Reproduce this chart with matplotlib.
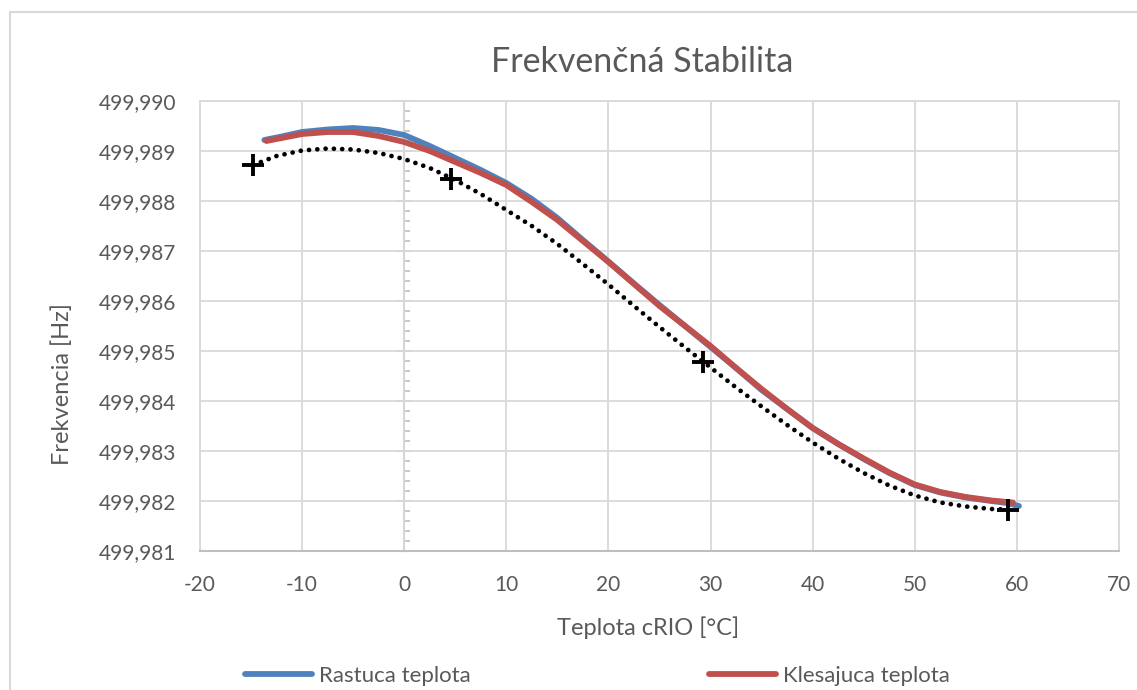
import numpy as np
import matplotlib
matplotlib.use('Agg')
import matplotlib.pyplot as plt
from matplotlib.ticker import FuncFormatter, MultipleLocator
from matplotlib.patches import Rectangle

plt.rcParams['font.family'] = ['Lato', 'DejaVu Sans']
plt.rcParams['axes.unicode_minus'] = False

# ---------------------------------------------------
# Data
# ---------------------------------------------------
temp_rise = [-13.7, -12, -10, -7.5, -5, -2.5, 0, 2.5, 5, 7.5, 10, 12.5, 15, 17.5, 20, 22.5,
             25, 27.5, 30, 32.5, 35, 37.5, 40, 42.5, 45, 47.5, 50, 52.5, 55, 57.5, 59, 60.2]
freq_rise = [499.98922, 499.98929, 499.98938, 499.98943, 499.98946, 499.98942, 499.98932,
             499.98910, 499.98886, 499.98862, 499.98836, 499.98804, 499.98766, 499.98722,
             499.98679, 499.98635, 499.98592, 499.98550, 499.98508, 499.98466, 499.98422,
             499.98384, 499.98346, 499.98314, 499.98284, 499.98256, 499.98232, 499.98217,
             499.98207, 499.98200, 499.98196, 499.98190]

temp_fall = [-13.5, -12, -10, -7.5, -5, -2.5, 0, 2.5, 5, 7.5, 10, 12.5, 15, 17.5, 20, 22.5,
             25, 27.5, 30, 32.5, 35, 37.5, 40, 42.5, 45, 47.5, 50, 52.5, 55, 57.5, 59.6]
freq_fall = [499.98920, 499.98926, 499.98934, 499.98938, 499.98938, 499.98930, 499.98918,
             499.98900, 499.98878, 499.98856, 499.98832, 499.98798, 499.98762, 499.98720,
             499.98678, 499.98634, 499.98590, 499.98550, 499.98510, 499.98466, 499.98424,
             499.98384, 499.98346, 499.98314, 499.98285, 499.98257, 499.98233, 499.98218,
             499.98208, 499.98201, 499.98197]

temp_trend = [-14.8, -12.5, -10, -7.5, -5, -2.5, 0, 2.5, 5, 7.5, 10, 12.5, 15, 17.5, 20, 22.5,
              25, 27.5, 30, 32.5, 35, 37.5, 40, 42.5, 45, 47.5, 50, 52.5, 55, 57.5, 59.1]
freq_trend = [499.98872, 499.98890, 499.98901, 499.98905, 499.98903, 499.98896, 499.98884,
              499.98866, 499.98842, 499.98814, 499.98782, 499.98750, 499.98714, 499.98674,
              499.98633, 499.98590, 499.98548, 499.98507, 499.98467, 499.98427, 499.98389,
              499.98352, 499.98317, 499.98285, 499.98256, 499.98231, 499.98211, 499.98197,
              499.98189, 499.98184, 499.98183]

temp_points = [-14.8, 4.6, 29.3, 59.1]
freq_points = [499.98872, 499.98844, 499.98478, 499.98182]

x_ticks = [-20, -10, 0, 10, 20, 30, 40, 50, 60, 70]
y_ticks = [499.981, 499.982, 499.983, 499.984, 499.985, 499.986, 499.987, 499.988, 499.989, 499.990]

# ---------------------------------------------------
# Figure
# ---------------------------------------------------
W, H = 1137, 690
fig = plt.figure(figsize=(W / 100, H / 100), dpi=100)
ax = fig.add_axes([200 / W, 1 - 551 / H, 919 / W, 450 / H])

text_col = '#595959'
grid_col = '#d9d9d9'
axis_col = '#bfbfbf'

ax.plot(temp_rise, freq_rise, color='#4f81bd', lw=4.2, solid_capstyle='round', label='Rastuca teplota', zorder=3)
ax.plot(temp_fall, freq_fall, color='#c0504d', lw=4.2, solid_capstyle='round', label='Klesajuca teplota', zorder=4)
ax.plot(temp_trend, freq_trend, color='black', lw=3.4, linestyle=(0, (0.01, 1.75)),
        dash_capstyle='round', zorder=5)
ax.plot(temp_points, freq_points, linestyle='none', marker='+', color='black', ms=16, mew=2.8, zorder=6)

ax.set_xlim(-20, 70)
ax.set_ylim(499.981, 499.990)
ax.set_xticks(x_ticks)
ax.set_yticks(y_ticks)
ax.yaxis.set_major_formatter(FuncFormatter(lambda v, p: f'{v:.3f}'.replace('.', ',')))
ax.grid(True, color=grid_col, lw=1.3)
ax.set_axisbelow(True)
ax.tick_params(length=0, labelsize=15, labelcolor=text_col)
ax.tick_params(axis='y', pad=17)
ax.tick_params(axis='x', pad=17)
for s in ['top', 'left', 'right']:
    ax.spines[s].set_color(grid_col)
    ax.spines[s].set_linewidth(1.3)
ax.spines['bottom'].set_color(axis_col)
ax.spines['bottom'].set_linewidth(1.5)

# vertical value axis crossing at x = 0 (labels stay on the left)
sec = ax.secondary_yaxis((0 - x_ticks[0]) / (x_ticks[-1] - x_ticks[0]))
sec.set_yticks(y_ticks)
sec.yaxis.set_minor_locator(MultipleLocator(0.0002))
sec.tick_params(which='major', direction='inout', length=11.5, width=1.2, color=axis_col, labelleft=False)
sec.tick_params(which='minor', direction='in', length=4, width=1.2, color=axis_col)
sec.spines['left'].set_color(axis_col)
sec.spines['left'].set_linewidth(1.5)

# texts
fig.text(642 / W, 1 - 62 / H, 'Frekvenčná Stabilita', ha='center', va='center', fontsize=24.5, color=text_col)
fig.text(648 / W, 1 - 628 / H, 'Teplota cRIO [°C]', ha='center', va='center', fontsize=17, color=text_col)
fig.text(62 / W, 1 - 384 / H, 'Frekvencia [Hz]', ha='center', va='center', rotation=90, fontsize=17, color=text_col)

leg = fig.legend(loc='center left', bbox_to_anchor=(236 / W, 1 - 676 / H), ncol=2, frameon=False,
                 fontsize=16, handlelength=3.0, handletextpad=0.35, columnspacing=10.7, borderaxespad=0)
for t in leg.get_texts():
    t.set_color(text_col)

# outer chart border
fig.patches.append(Rectangle((10 / W, -0.1), 1.2, (H - 12) / H + 0.1, transform=fig.transFigure,
                             fill=False, edgecolor=grid_col, lw=1.5))

fig.savefig('out.png', dpi=100)
